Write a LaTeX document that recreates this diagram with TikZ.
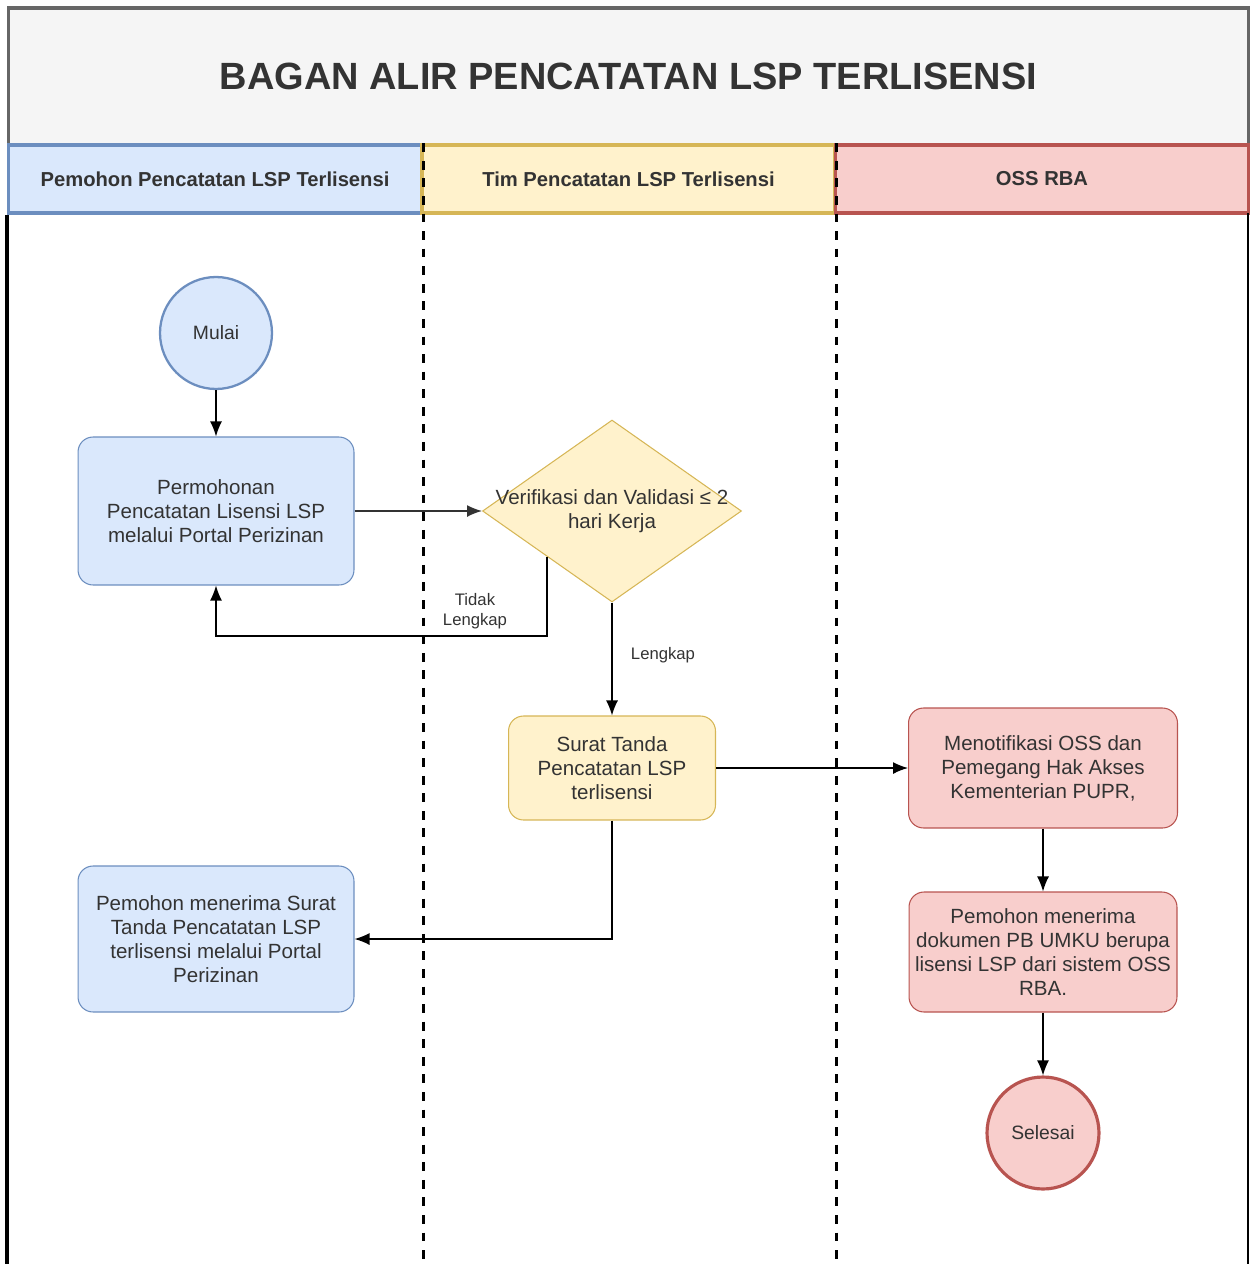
\documentclass[tikz,border=0pt]{standalone}
\usepackage{fontspec}
\setmainfont{Liberation Sans}
\usetikzlibrary{arrows.meta, positioning, shapes.geometric, calc}

\definecolor{bluefill}{HTML}{DAE8FC}
\definecolor{blueline}{HTML}{6C8EBF}
\definecolor{yelfill}{HTML}{FFF2CC}
\definecolor{yelline}{HTML}{D6B656}
\definecolor{redfill}{HTML}{F8CECC}
\definecolor{redline}{HTML}{B85450}
\definecolor{txtgray}{HTML}{333333}
\definecolor{titlefill}{HTML}{F5F5F5}
\definecolor{titleline}{HTML}{666666}

\tikzset{
  proc/.style={draw, rounded corners=0.3cm, align=center, text=txtgray,
    font=\fontsize{11.7}{13.6}\selectfont, inner sep=2pt, line width=0.6pt},
  term/.style={circle, draw, minimum size=2.24cm, inner sep=0pt, text=txtgray,
    font=\fontsize{11}{13}\selectfont, line width=1.3pt},
  lanehead/.style={rectangle, minimum width=8.26cm, minimum height=1.36cm, inner sep=0pt,
    line width=2pt, text=txtgray, font=\bfseries\fontsize{11.5}{13}\selectfont},
  lanesep/.style={line width=1.6pt, dash pattern=on 5pt off 5pt},
  flow/.style={-{Latex[length=0.3cm, width=0.24cm]}, line width=0.8pt},
  small/.style={text=txtgray, font=\fontsize{9.5}{11.5}\selectfont, align=center}
}

\begin{document}
\begin{tikzpicture}[x=0.02cm, y=-0.02cm]
    \useasboundingbox (0,0) rectangle (1251,1264);

    % Title
    \node[draw=titleline, fill=titlefill, line width=1.8pt, minimum width=24.8cm, minimum height=2.74cm,
      inner sep=0pt, text=txtgray, font=\bfseries\fontsize{21.6}{25}\selectfont] (title) at (628.5,76.5)
      {BAGAN ALIR PENCATATAN LSP TERLISENSI};

    % Lanes
    \node[lanehead, fill=bluefill, draw=blueline] (laneA) at (215,179) {Pemohon Pencatatan LSP Terlisensi};
    \node[lanehead, fill=yelfill, draw=yelline] (laneB) at (628.5,179) {Tim Pencatatan LSP Terlisensi};
    \node[lanehead, fill=redfill, draw=redline] (laneC) at (1042,179) {OSS RBA};

    \draw[line width=2.2pt] (laneA.south west) -- (laneA.south west |- 0,1264);
    \draw[line width=0.6pt] (1248,213) -- (1248,1264);
    \draw[lanesep] (laneA.north east) -- (laneA.north east |- 0,1264);
    \draw[lanesep] (laneB.north east) -- (laneB.north east |- 0,1264);

    % Pemohon
    \node[term, fill=bluefill, draw=blueline] (mulai) at (216,333) {Mulai};
    \node[proc, fill=bluefill, draw=blueline, minimum width=5.52cm, minimum height=2.96cm] (mohon) at (216,511)
      {Permohonan\\Pencatatan Lisensi LSP\\melalui Portal Perizinan};
    \node[proc, fill=bluefill, draw=blueline, minimum width=5.52cm, minimum height=2.92cm] (terima) at (216,939)
      {Pemohon menerima Surat\\Tanda Pencatatan LSP\\terlisensi melalui Portal\\Perizinan};

    % Tim
    \node[diamond, fill=yelfill, draw=yelline, line width=0.6pt, minimum width=5.18cm, minimum height=3.64cm,
      inner sep=0pt] (verif) at (612,511) {};
    \node[text=txtgray, align=center, font=\fontsize{11.7}{13.6}\selectfont] (veriftxt) at (verif.center)
      {Verifikasi dan Validasi ≤ 2\\hari Kerja};
    \node[proc, fill=yelfill, draw=yelline, minimum width=4.14cm, minimum height=2.08cm] (surat) at (612,768)
      {Surat Tanda\\Pencatatan LSP\\terlisensi};

    % OSS
    \node[proc, fill=redfill, draw=redline, minimum width=5.38cm, minimum height=2.4cm] (notif) at (1043,768)
      {Menotifikasi OSS dan\\Pemegang Hak Akses\\Kementerian PUPR,};
    \node[proc, fill=redfill, draw=redline, minimum width=5.36cm, minimum height=2.4cm] (dokumen) at (1043,952)
      {Pemohon menerima\\dokumen PB UMKU berupa\\lisensi LSP dari sistem OSS\\RBA.};
    \node[term, fill=redfill, draw=redline, line width=1.8pt] (selesai) at (1043,1133) {Selesai};

    % Arrows
    \coordinate (tidak) at ($(verif.west)!0.5!(verif.south)$);
    \draw[flow] (mulai) -- (mohon);
    \draw[flow, draw=txtgray] (mohon) -- (verif);
    \draw[flow] (tidak) -- (tidak |- 0,636) -| (mohon.south);
    \node[small] (lbltidak) at (475,611) {Tidak\\Lengkap};
    \draw[flow] (verif.south) -- (surat.north);
    \node[small] (lbllengkap) at (663,655) {Lengkap};
    \draw[flow] (surat) -- (notif);
    \draw[flow] (surat.south) |- (terima.east);
    \draw[flow] (notif) -- (dokumen);
    \draw[flow] (dokumen) -- (selesai);

\end{tikzpicture}
\end{document}
